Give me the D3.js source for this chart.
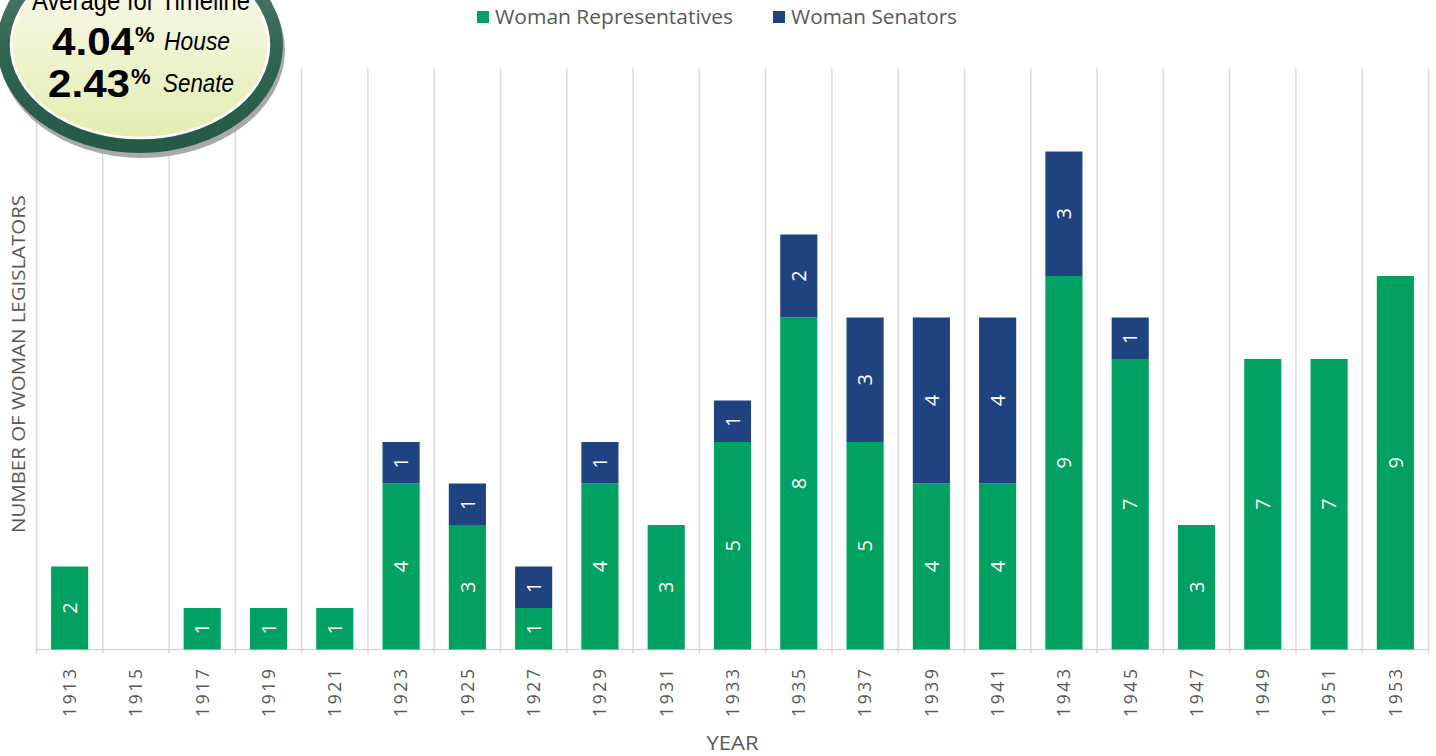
<!DOCTYPE html>
<html>
<head>
<meta charset="utf-8">
<script src="https://cdn.jsdelivr.net/npm/d3@7.9.0/dist/d3.min.js"></script>
<style>
  body { margin: 0; background: #fff; }
  svg { display: block; }
</style>
</head>
<body>
<svg id="chart" width="1436" height="756"></svg>
<script>
// values
const years = ['1913','1915','1917','1919','1921','1923','1925','1927','1929','1931','1933',
               '1935','1937','1939','1941','1943','1945','1947','1949','1951','1953'];
const representatives = [2, 0, 1, 1, 1, 4, 3, 1, 4, 3, 5, 8, 5, 4, 4, 9, 7, 3, 7, 7, 9];
const senators        = [0, 0, 0, 0, 0, 1, 1, 1, 1, 0, 1, 2, 3, 4, 4, 3, 1, 0, 0, 0, 0];
const seriesNames = ['Woman Representatives', 'Woman Senators'];
const seriesColors = ['#00a161', '#1f4281'];
const yMax = 14;
const avgValues = ['4.04', '2.43'];
const avgLabels = ['House', 'Senate'];

const svg = d3.select('#chart');
const margin = { top: 68.5, left: 36.5, right: 7.5, bottom: 106.5 };
const W = 1436, H = 756;

const table = years.map((y, i) => ({ year: y, rep: representatives[i], sen: senators[i] }));
const stacked = d3.stack().keys(['rep', 'sen'])(table);

const x = d3.scaleBand()
  .domain(years)
  .range([margin.left, W - margin.right])
  .paddingInner(0).paddingOuter(0);

const y = d3.scaleLinear()
  .domain([0, yMax])
  .range([H - margin.bottom, margin.top]);

const barPad = 0.22; // fraction of band left empty each side
const gridColor = '#d9d9d9';
const textGray = '#595959';
const sans = '"Open Sans", sans-serif';

// vertical gridlines at band edges
const edges = years.map(d => x(d)).concat([x(years[years.length - 1]) + x.bandwidth()]);
svg.append('g')
  .selectAll('line')
  .data(edges)
  .join('line')
  .attr('x1', d => d).attr('x2', d => d)
  .attr('y1', y(yMax)).attr('y2', y(0) + 4)
  .attr('stroke', gridColor)
  .attr('stroke-width', 1.5);

// baseline
svg.append('line')
  .attr('x1', x.range()[0]).attr('x2', x.range()[1])
  .attr('y1', y(0)).attr('y2', y(0))
  .attr('stroke', gridColor)
  .attr('stroke-width', 1.5);

// bars
const layers = svg.append('g')
  .selectAll('g')
  .data(stacked)
  .join('g')
  .attr('fill', (_, i) => seriesColors[i]);

layers.selectAll('rect')
  .data(d => d.filter(s => s[1] - s[0] > 0))
  .join('rect')
  .attr('x', d => x(d.data.year) + x.bandwidth() * barPad)
  .attr('width', x.bandwidth() * (1 - 2 * barPad))
  .attr('y', d => y(d[1]))
  .attr('height', d => y(d[0]) - y(d[1]));

// data labels, rotated
layers.selectAll('text')
  .data(d => d.filter(s => s[1] - s[0] > 0))
  .join('text')
  .attr('transform', d => {
    const cx = x(d.data.year) + x.bandwidth() / 2;
    const cy = (y(d[0]) + y(d[1])) / 2;
    return `translate(${cx},${cy}) rotate(-90)`;
  })
  .attr('text-anchor', 'middle')
  .attr('dy', '0.36em')
  .attr('fill', '#fff')
  .style('font-family', sans)
  .style('font-size', '20px')
  .text(d => d[1] - d[0]);

// x tick labels
svg.append('g')
  .selectAll('text')
  .data(years)
  .join('text')
  .attr('transform', d => `translate(${x(d) + x.bandwidth() / 2},${y(0) + 17}) rotate(-90)`)
  .attr('text-anchor', 'end')
  .attr('dy', '0.36em')
  .attr('fill', textGray)
  .style('font-family', sans)
  .style('font-size', '17.5px')
  .style('letter-spacing', '2.6px')
  .text(d => d);

// axis titles
svg.append('text')
  .attr('x', (x.range()[0] + x.range()[1]) / 2)
  .attr('y', 750)
  .attr('text-anchor', 'middle')
  .attr('fill', textGray)
  .style('font-family', sans)
  .style('font-size', '20px')
  .attr('textLength', 52)
  .attr('lengthAdjust', 'spacingAndGlyphs')
  .text('YEAR');

svg.append('text')
  .attr('transform', `translate(25,${(195 + 533) / 2}) rotate(-90)`)
  .attr('text-anchor', 'middle')
  .attr('fill', textGray)
  .style('font-family', sans)
  .style('font-size', '18px')
  .attr('textLength', 338)
  .attr('lengthAdjust', 'spacingAndGlyphs')
  .text('NUMBER OF WOMAN LEGISLATORS');

// legend
const legendX = [477, 773];
const legendW = [238, 166];
const legend = svg.append('g')
  .selectAll('g')
  .data(seriesNames)
  .join('g')
  .attr('transform', (_, i) => `translate(${legendX[i]},11)`);
legend.append('rect')
  .attr('width', 12).attr('height', 12)
  .attr('fill', (_, i) => seriesColors[i]);
legend.append('text')
  .attr('x', 18).attr('y', 6)
  .attr('dy', '0.36em')
  .attr('fill', textGray)
  .style('font-family', sans)
  .style('font-size', '20px')
  .attr('textLength', (_, i) => legendW[i])
  .attr('lengthAdjust', 'spacingAndGlyphs')
  .text(d => d);

// the "Average for Timeline" badge
const defs = svg.append('defs');
const ringGrad = defs.append('linearGradient').attr('id', 'ring')
  .attr('x1', 0).attr('y1', 0).attr('x2', 0).attr('y2', 1);
ringGrad.append('stop').attr('offset', '0%').attr('stop-color', '#5a8273');
ringGrad.append('stop').attr('offset', '55%').attr('stop-color', '#2f6450');
ringGrad.append('stop').attr('offset', '100%').attr('stop-color', '#235945');
const fillGrad = defs.append('linearGradient').attr('id', 'fillg')
  .attr('x1', 0).attr('y1', 0).attr('x2', 0).attr('y2', 1);
fillGrad.append('stop').attr('offset', '0%').attr('stop-color', '#fbfcf3');
fillGrad.append('stop').attr('offset', '45%').attr('stop-color', '#f1f5d6');
fillGrad.append('stop').attr('offset', '100%').attr('stop-color', '#e3edb0');

const badge = svg.append('g').attr('transform', 'translate(140,45)');
badge.append('ellipse')
  .attr('cx', 2).attr('cy', 5).attr('rx', 143).attr('ry', 108)
  .attr('fill', '#a9a9a9');
badge.append('ellipse')
  .attr('rx', 143).attr('ry', 108)
  .attr('fill', 'url(#ring)');
badge.append('ellipse')
  .attr('rx', 129).attr('ry', 93)
  .attr('fill', 'url(#fillg)')
  .attr('stroke', '#fff')
  .attr('stroke-width', 2.5);

const badgeFont = '"Liberation Sans", Arial, sans-serif';
badge.append('text')
  .attr('x', 1).attr('y', -35)
  .attr('text-anchor', 'middle')
  .style('font-family', badgeFont)
  .style('font-size', '27px')
  .attr('textLength', 218)
  .attr('lengthAdjust', 'spacingAndGlyphs')
  .text('Average for Timeline');

const rowX = [-88, -92];
const rowY = [10, 52];
const labelX = [24, 23];
const labelW = [66, 71];
const rows = badge.append('g')
  .selectAll('g')
  .data(avgValues)
  .join('g')
  .style('font-family', badgeFont);
rows.append('text')
  .attr('x', (_, i) => rowX[i]).attr('y', (_, i) => rowY[i])
  .style('font-size', '39px')
  .style('font-weight', 'bold')
  .attr('textLength', 82)
  .attr('lengthAdjust', 'spacingAndGlyphs')
  .text(d => d);
rows.append('text')
  .attr('x', (_, i) => rowX[i] + 83).attr('y', (_, i) => rowY[i] - 13)
  .style('font-size', '22px')
  .style('font-weight', 'bold')
  .text('%');
rows.append('text')
  .attr('x', (_, i) => labelX[i]).attr('y', (_, i) => rowY[i] - 5)
  .style('font-size', '25px')
  .style('font-style', 'italic')
  .attr('textLength', (_, i) => labelW[i])
  .attr('lengthAdjust', 'spacingAndGlyphs')
  .text((_, i) => avgLabels[i]);
</script>
</body>
</html>
